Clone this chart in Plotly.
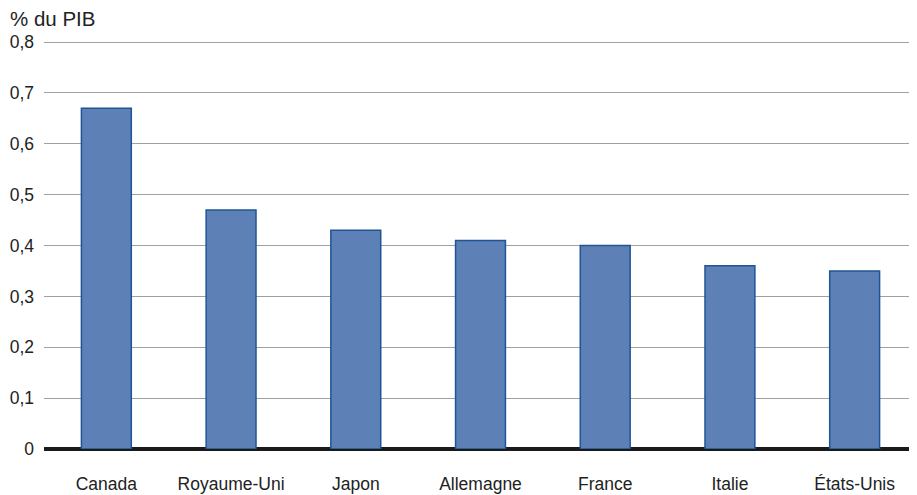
import plotly.graph_objects as go

categories = ["Canada", "Royaume-Uni", "Japon", "Allemagne", "France", "Italie", "États-Unis"]
values = [0.67, 0.47, 0.43, 0.41, 0.40, 0.36, 0.35]
tick_vals = [0, 0.1, 0.2, 0.3, 0.4, 0.5, 0.6, 0.7, 0.8]
tick_text = ["0", "0,1", "0,2", "0,3", "0,4", "0,5", "0,6", "0,7", "0,8"]

fig = go.Figure(go.Bar(
    x=categories, y=values,
    marker=dict(color="#5d80b6", line=dict(color="#1f5597", width=1.5)),
    hoverinfo="x+y",
))

# page body has an 8px default margin, so the figure is 909x487
fig.update_layout(
    width=909, height=487,
    margin=dict(l=36, r=0, t=32, b=46, autoexpand=False),
    paper_bgcolor="white", plot_bgcolor="white",
    font=dict(family="Liberation Sans, Arial, sans-serif", size=17.5, color="#222"),
    bargap=0.6,
    showlegend=False,
    annotations=[dict(text="% du PIB", x=-36/873, y=1 + 22/409, xref="paper", yref="paper",
                      showarrow=False, xanchor="left", yanchor="middle",
                      font=dict(size=20.5, color="#222"))],
)
fig.update_xaxes(showgrid=False, showline=False, ticks="", ticklabelstandoff=22,
                 automargin=False, tickfont=dict(size=17.5))
fig.update_yaxes(range=[0, 0.804], tickvals=tick_vals, ticktext=tick_text,
                 showgrid=True, gridcolor="#a0a0a0", gridwidth=1,
                 zeroline=True, zerolinecolor="#1a1a1a", zerolinewidth=3.5,
                 showline=False, ticks="", ticklabelstandoff=9,
                 automargin=False, tickfont=dict(size=17.5))

fig.write_html("out.html")
